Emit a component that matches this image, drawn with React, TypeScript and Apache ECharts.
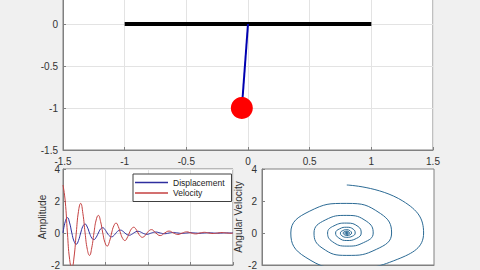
import React, { useEffect, useRef } from "react";
import * as echarts from "echarts";

// Pendulum snapshot (top plot)
const beamPoints: [number, number][] = [[-1, 0], [1, 0]];
const pivotPoint: [number, number] = [0, 0];
const bobPoint: [number, number] = [-0.05, -1];

// Tick settings
const topXTicks = { min: -1.5, max: 1.5, interval: 0.5 };
const topYTicks = { min: -1.5, max: 0.5, interval: 0.5 };
const lowYTicks = { min: -2, max: 4, interval: 2 };
const timeTicks = { min: 0, max: 20, interval: 5 };

// Time samples (s)
const timeValues = [
  0, 0.26, 0.52, 0.78, 1.04, 1.3, 1.56, 1.82, 2.08, 2.34, 2.6, 2.86, 3.12, 3.38, 3.64, 3.9,
  4.16, 4.42, 4.68, 4.94, 5.2, 5.46, 5.72, 5.98, 6.24, 6.5, 6.76, 7.02, 7.28, 7.54, 7.8,
  8.06, 8.32, 8.58, 8.84, 9.1, 9.36, 9.62, 9.88, 10.14, 10.4,
  10.92, 11.44, 11.96, 12.48, 13.0, 13.52, 14.04, 14.56, 15.08, 15.6, 16.12, 16.64, 17.16,
  17.68, 18.2, 18.72, 19.24, 19.76, 20,
];

// Displacement (angle)
const displacement = [
  0, 0.7, 0.96, 0.63, 0, -0.52, -0.7, -0.47, 0, 0.42, 0.56, 0.37, 0, -0.31, -0.41, -0.27,
  0, 0.25, 0.33, 0.21, 0, -0.18, -0.24, -0.16, 0, 0.14, 0.18, 0.12, 0, -0.1, -0.14,
  -0.09, 0, 0.08, 0.105, 0.07, 0, -0.06, -0.08, -0.05, 0,
  0.06, 0, -0.046, 0, 0.035, 0, -0.027, 0, 0.02, 0, -0.016, 0, 0.012,
  0, -0.009, 0, 0.007, 0, -0.002,
];

// Velocity (angular velocity)
const velocity = [
  3.0, 2.0, 0, -1.65, -2.2, -1.5, 0, 1.35, 1.85, 1.22, 0, -1.02, -1.4, -0.93, 0, 0.81,
  1.1, 0.72, 0, -0.6, -0.82, -0.54, 0, 0.45, 0.62, 0.41, 0, -0.34, -0.47, -0.31, 0,
  0.26, 0.36, 0.24, 0, -0.2, -0.27, -0.18, 0, 0.15, 0.21,
  0, -0.16, 0, 0.12, 0, -0.09, 0, 0.07, 0, -0.055, 0, 0.042, 0,
  -0.032, 0, 0.025, 0, -0.019, -0.006,
];

const seriesNames = ["Displacement", "Velocity"];

const FONT = "'Liberation Sans', Arial, sans-serif";
const AXIS_COLOR = "#808080";
const LABEL_COLOR = "#333333";
const GRID_COLOR = "#e3e3e3";

export default function App() {
  const ref = useRef<HTMLDivElement>(null);

  useEffect(() => {
    if (!ref.current) return;
    const chart = echarts.init(ref.current, undefined, { renderer: "svg" });

    const dispData = timeValues.map((t, i) => [t, displacement[i]]);
    const velData = timeValues.map((t, i) => [t, velocity[i]]);
    const phaseData = timeValues.map((_, i) => [displacement[i], velocity[i]]);

    const axisCommon = {
      axisLine: { show: true, onZero: false, lineStyle: { color: AXIS_COLOR, width: 1 } },
      axisTick: { show: true, inside: true, length: 3, lineStyle: { color: AXIS_COLOR } },
      axisLabel: { color: LABEL_COLOR, fontSize: 10, fontFamily: FONT },
    };

    chart.setOption({
      animation: false,
      backgroundColor: "#f0f0f0",
      textStyle: { fontFamily: FONT },
      legend: {
        data: seriesNames,
        left: 133,
        top: 204,
        orient: "vertical",
        backgroundColor: "#ffffff",
        borderColor: "#404040",
        borderWidth: 1,
        borderRadius: 0,
        padding: [4, 7, 4, 2],
        itemWidth: 33,
        itemHeight: 1.5,
        itemGap: 1.5,
        icon: "rect",
        textStyle: { fontSize: 8.5, color: "#222222", fontFamily: FONT },
      },
      grid: [
        { left: 63, right: 47, top: 12, height: 168, show: true, backgroundColor: "#ffffff", borderColor: AXIS_COLOR, borderWidth: 1 },
        { left: 63, width: 170, top: 199, height: 100.5, show: true, backgroundColor: "#ffffff", borderColor: AXIS_COLOR, borderWidth: 1 },
        { left: 262, width: 172, top: 199, height: 100.5, show: true, backgroundColor: "#ffffff", borderColor: AXIS_COLOR, borderWidth: 1 },
      ],
      xAxis: [
        {
          ...axisCommon,
          type: "value",
          gridIndex: 0,
          ...topXTicks,
          axisLabel: { ...axisCommon.axisLabel, margin: 6 },
          splitLine: { show: true, lineStyle: { color: GRID_COLOR, width: 1 } },
        },
        {
          ...axisCommon,
          type: "value",
          gridIndex: 1,
          ...timeTicks,
          axisLabel: { show: false },
          splitLine: { show: true, lineStyle: { color: GRID_COLOR, width: 1 } },
        },
        {
          ...axisCommon,
          type: "value",
          gridIndex: 2,
          min: -1.06,
          max: 1.09,
          axisLabel: { show: false },
          axisTick: { show: false },
          splitLine: { show: false },
        },
      ],
      yAxis: [
        {
          ...axisCommon,
          type: "value",
          gridIndex: 0,
          ...topYTicks,
          axisLabel: { ...axisCommon.axisLabel, margin: 5, showMaxLabel: false },
          splitLine: { show: true, lineStyle: { color: GRID_COLOR, width: 1 } },
        },
        {
          ...axisCommon,
          type: "value",
          gridIndex: 1,
          ...lowYTicks,
          axisLabel: { ...axisCommon.axisLabel, margin: 3 },
          splitLine: { show: true, lineStyle: { color: GRID_COLOR, width: 1 } },
          name: "Amplitude",
          nameLocation: "middle",
          nameGap: 15,
          nameTextStyle: { fontSize: 10, color: LABEL_COLOR, fontFamily: FONT },
        },
        {
          ...axisCommon,
          type: "value",
          gridIndex: 2,
          ...lowYTicks,
          axisLabel: { ...axisCommon.axisLabel, margin: 5 },
          splitLine: { show: false },
          name: "Angular Velocity",
          nameLocation: "middle",
          nameGap: 19,
          nameTextStyle: { fontSize: 10, color: LABEL_COLOR, fontFamily: FONT },
        },
      ],
      series: [
        {
          type: "line",
          xAxisIndex: 0,
          yAxisIndex: 0,
          data: beamPoints,
          symbol: "none",
          lineStyle: { color: "#000000", width: 4 },
          z: 2,
        },
        {
          type: "line",
          xAxisIndex: 0,
          yAxisIndex: 0,
          data: [pivotPoint, bobPoint],
          symbol: "none",
          lineStyle: { color: "#0000b0", width: 2 },
          z: 3,
        },
        {
          type: "scatter",
          xAxisIndex: 0,
          yAxisIndex: 0,
          data: [bobPoint],
          symbol: "circle",
          symbolSize: 22,
          itemStyle: { color: "#ff0000", opacity: 1 },
          z: 4,
        },
        {
          name: seriesNames[0],
          type: "line",
          xAxisIndex: 1,
          yAxisIndex: 1,
          data: dispData,
          symbol: "none",
          smooth: 0.5,
          color: "#2e2e9e",
          lineStyle: { color: "#2e2e9e", width: 1 },
          z: 3,
        },
        {
          name: seriesNames[1],
          type: "line",
          xAxisIndex: 1,
          yAxisIndex: 1,
          data: velData,
          symbol: "none",
          smooth: 0.5,
          color: "#c44040",
          lineStyle: { color: "#c44040", width: 1 },
          z: 3,
        },
        {
          type: "line",
          xAxisIndex: 2,
          yAxisIndex: 2,
          data: phaseData,
          symbol: "none",
          smooth: 0.5,
          lineStyle: { color: "#2b6a94", width: 1 },
          z: 3,
        },
      ],
    });

    return () => chart.dispose();
  }, []);

  return (
    <div
      ref={ref}
      style={{ position: "fixed", left: 0, top: -30, width: 480, height: 300 }}
    />
  );
}
